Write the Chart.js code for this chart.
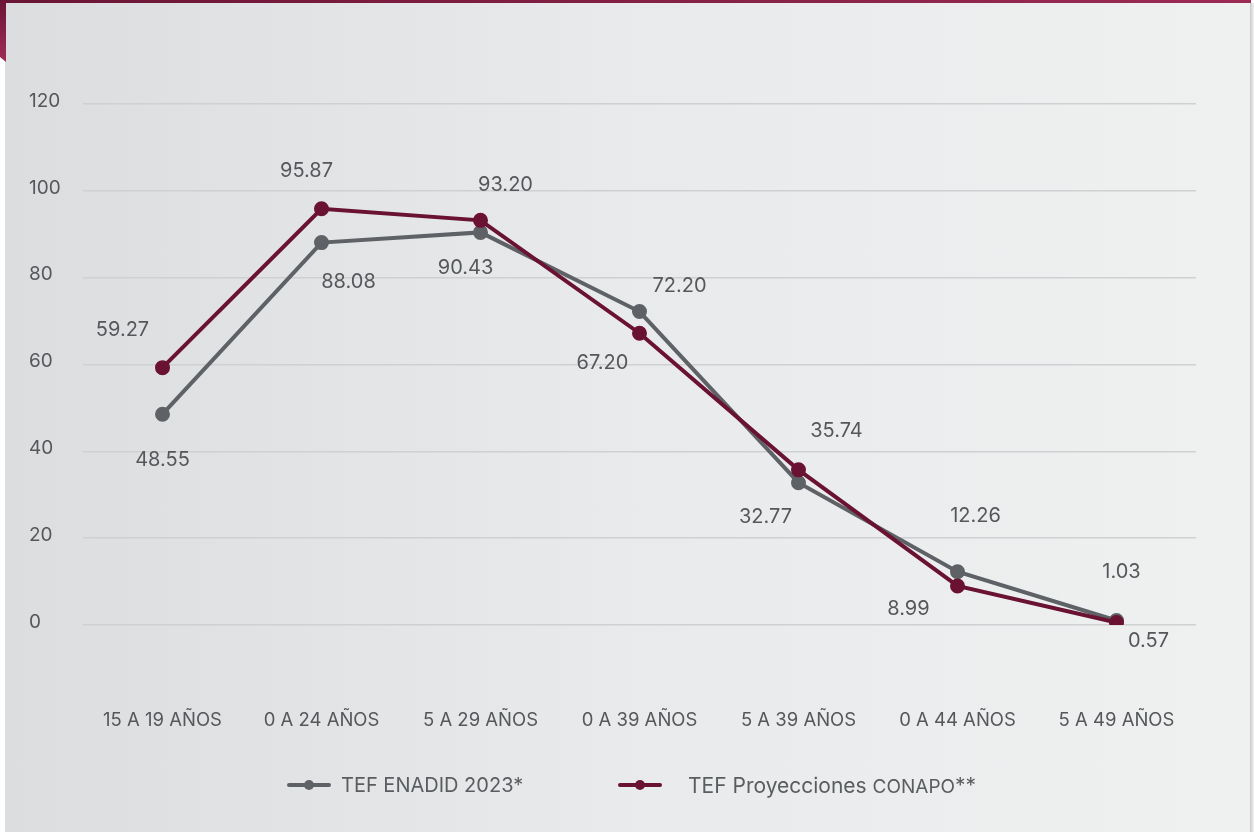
<!DOCTYPE html>
<html>
<head>
<meta charset="utf-8">
<script src="https://cdn.jsdelivr.net/npm/chart.js@4.4.0/dist/chart.umd.min.js"></script>
<style>
  html, body { margin: 0; padding: 0; width: 1254px; height: 832px; overflow: hidden; background: #ffffff; font-family: Inter, "Open Sans", sans-serif; }
  #topbar { position: absolute; left: 0; top: 0; width: 1251px; height: 3px; background: linear-gradient(to right, #6a1535, #9c2b54); }
  #corner { position: absolute; left: 0; top: 0; width: 6px; height: 62px; background: linear-gradient(to bottom, #6a1535, #a02c58); clip-path: polygon(0 0, 100% 0, 100% 100%, 0 92%); }
  #panel { position: absolute; left: 5px; top: 3px; width: 1245px; height: 829px; background: linear-gradient(to right, #dcdddf, #e9eaeb 50%, #eff0f0); }
  #shadow { position: absolute; left: 1250px; top: 3px; width: 4px; height: 829px; background: linear-gradient(to right, #c9c9c9, #f3f3f3); }
  #wrap { position: absolute; left: 0; top: 0; width: 1254px; height: 832px; }
  .legend { position: absolute; top: 772px; height: 26px; display: flex; align-items: center; font-size: 20px; color: #5a5d60; white-space: nowrap; }
  .sym { position: relative; width: 44px; height: 4px; border-radius: 2px; margin-right: 10px; }
  .sym::after { content: ""; position: absolute; left: 17px; top: -3px; width: 10px; height: 10px; border-radius: 50%; background: inherit; }
</style>
</head>
<body>
<div id="panel"></div>
<div id="topbar"></div>
<div id="corner"></div>
<div id="shadow"></div>
<div id="wrap"><canvas id="c" width="1254" height="832"></canvas></div>
<div class="legend" style="left:287px;"><span class="sym" style="background:#5e6266;"></span><span>TEF ENADID 2023*</span></div>
<div class="legend" style="left:618px;"><span class="sym" style="background:#6a1232; margin-right:26px;"></span><span style="font-size:21px">TEF Proyecciones <span style="font-size:19px">CONAPO</span>**</span></div>
<script>
const categories = ["15 A 19 AÑOS", "0 A 24 AÑOS", "5 A 29 AÑOS", "0 A 39 AÑOS", "5 A 39 AÑOS", "0 A 44 AÑOS", "5 A 49 AÑOS"];
const enadid = [48.55, 88.08, 90.43, 72.20, 32.77, 12.26, 1.03];
const conapo = [59.27, 95.87, 93.20, 67.20, 35.74, 8.99, 0.57];
const yTicks = [0, 20, 40, 60, 80, 100, 120];

// label offsets relative to each point (styling)
const labelOffsets = {
  enadid: [[0, 46], [27, 39], [-15, 36], [40, -26], [-33, 34], [18, -56], [5, -49]],
  conapo: [[-40, -38], [-15, -38], [25, -35], [-37, 30], [38, -39], [-49, 23], [32, 18]]
};

const labelPlugin = {
  id: 'pointLabels',
  afterDatasetsDraw(chart) {
    const ctx = chart.ctx;
    ctx.save();
    ctx.font = '20px Inter, "Open Sans", sans-serif';
    ctx.fillStyle = '#55585b';
    ctx.textAlign = 'center';
    ctx.textBaseline = 'middle';
    chart.data.datasets.forEach((ds, i) => {
      const meta = chart.getDatasetMeta(i);
      const offs = labelOffsets[ds.key];
      meta.data.forEach((pt, j) => {
        ctx.fillText(ds.data[j].toFixed(2), pt.x + offs[j][0], pt.y + offs[j][1]);
      });
    });
    ctx.restore();
  }
};

new Chart(document.getElementById('c'), {
  type: 'line',
  data: {
    labels: categories,
    datasets: [
      { key: 'conapo', label: 'TEF Proyecciones CONAPO**', data: conapo, borderColor: '#6a1232', backgroundColor: '#6a1232', borderWidth: 4, pointRadius: 5.5, pointHoverRadius: 5.5, tension: 0, order: 0 },
      { key: 'enadid', label: 'TEF ENADID 2023*', data: enadid, borderColor: '#5e6266', backgroundColor: '#5e6266', borderWidth: 4, pointRadius: 5.5, pointHoverRadius: 5.5, tension: 0, order: 1 }
    ]
  },
  options: {
    responsive: false,
    animation: false,
    events: [],
    layout: { padding: { left: 29, right: 58, top: 104, bottom: 0 } },
    plugins: { legend: { display: false }, tooltip: { enabled: false } },
    scales: {
      x: {
        offset: true,
        grid: { display: false, drawTicks: false },
        border: { display: false },
        ticks: { color: '#55585b', font: { family: 'Inter', size: 18.5 }, padding: 84, maxRotation: 0, autoSkip: false },
        afterFit(scale) { scale.height = 207; scale.paddingLeft = 0; scale.paddingRight = 0; }
      },
      y: {
        min: 0, max: 120,
        afterBuildTicks(scale) { scale.ticks = yTicks.map(v => ({ value: v })); },
        grid: { color: '#cfd0d2', lineWidth: 1.5, drawTicks: false },
        border: { display: false },
        ticks: { color: '#55585b', font: { family: 'Inter', size: 19 }, crossAlign: 'far', padding: 0, labelOffset: -3 },
        afterFit(scale) { scale.width = 54; scale.paddingTop = 0; scale.paddingBottom = 0; }
      }
    }
  },
  plugins: [labelPlugin]
});
</script>
</body>
</html>
